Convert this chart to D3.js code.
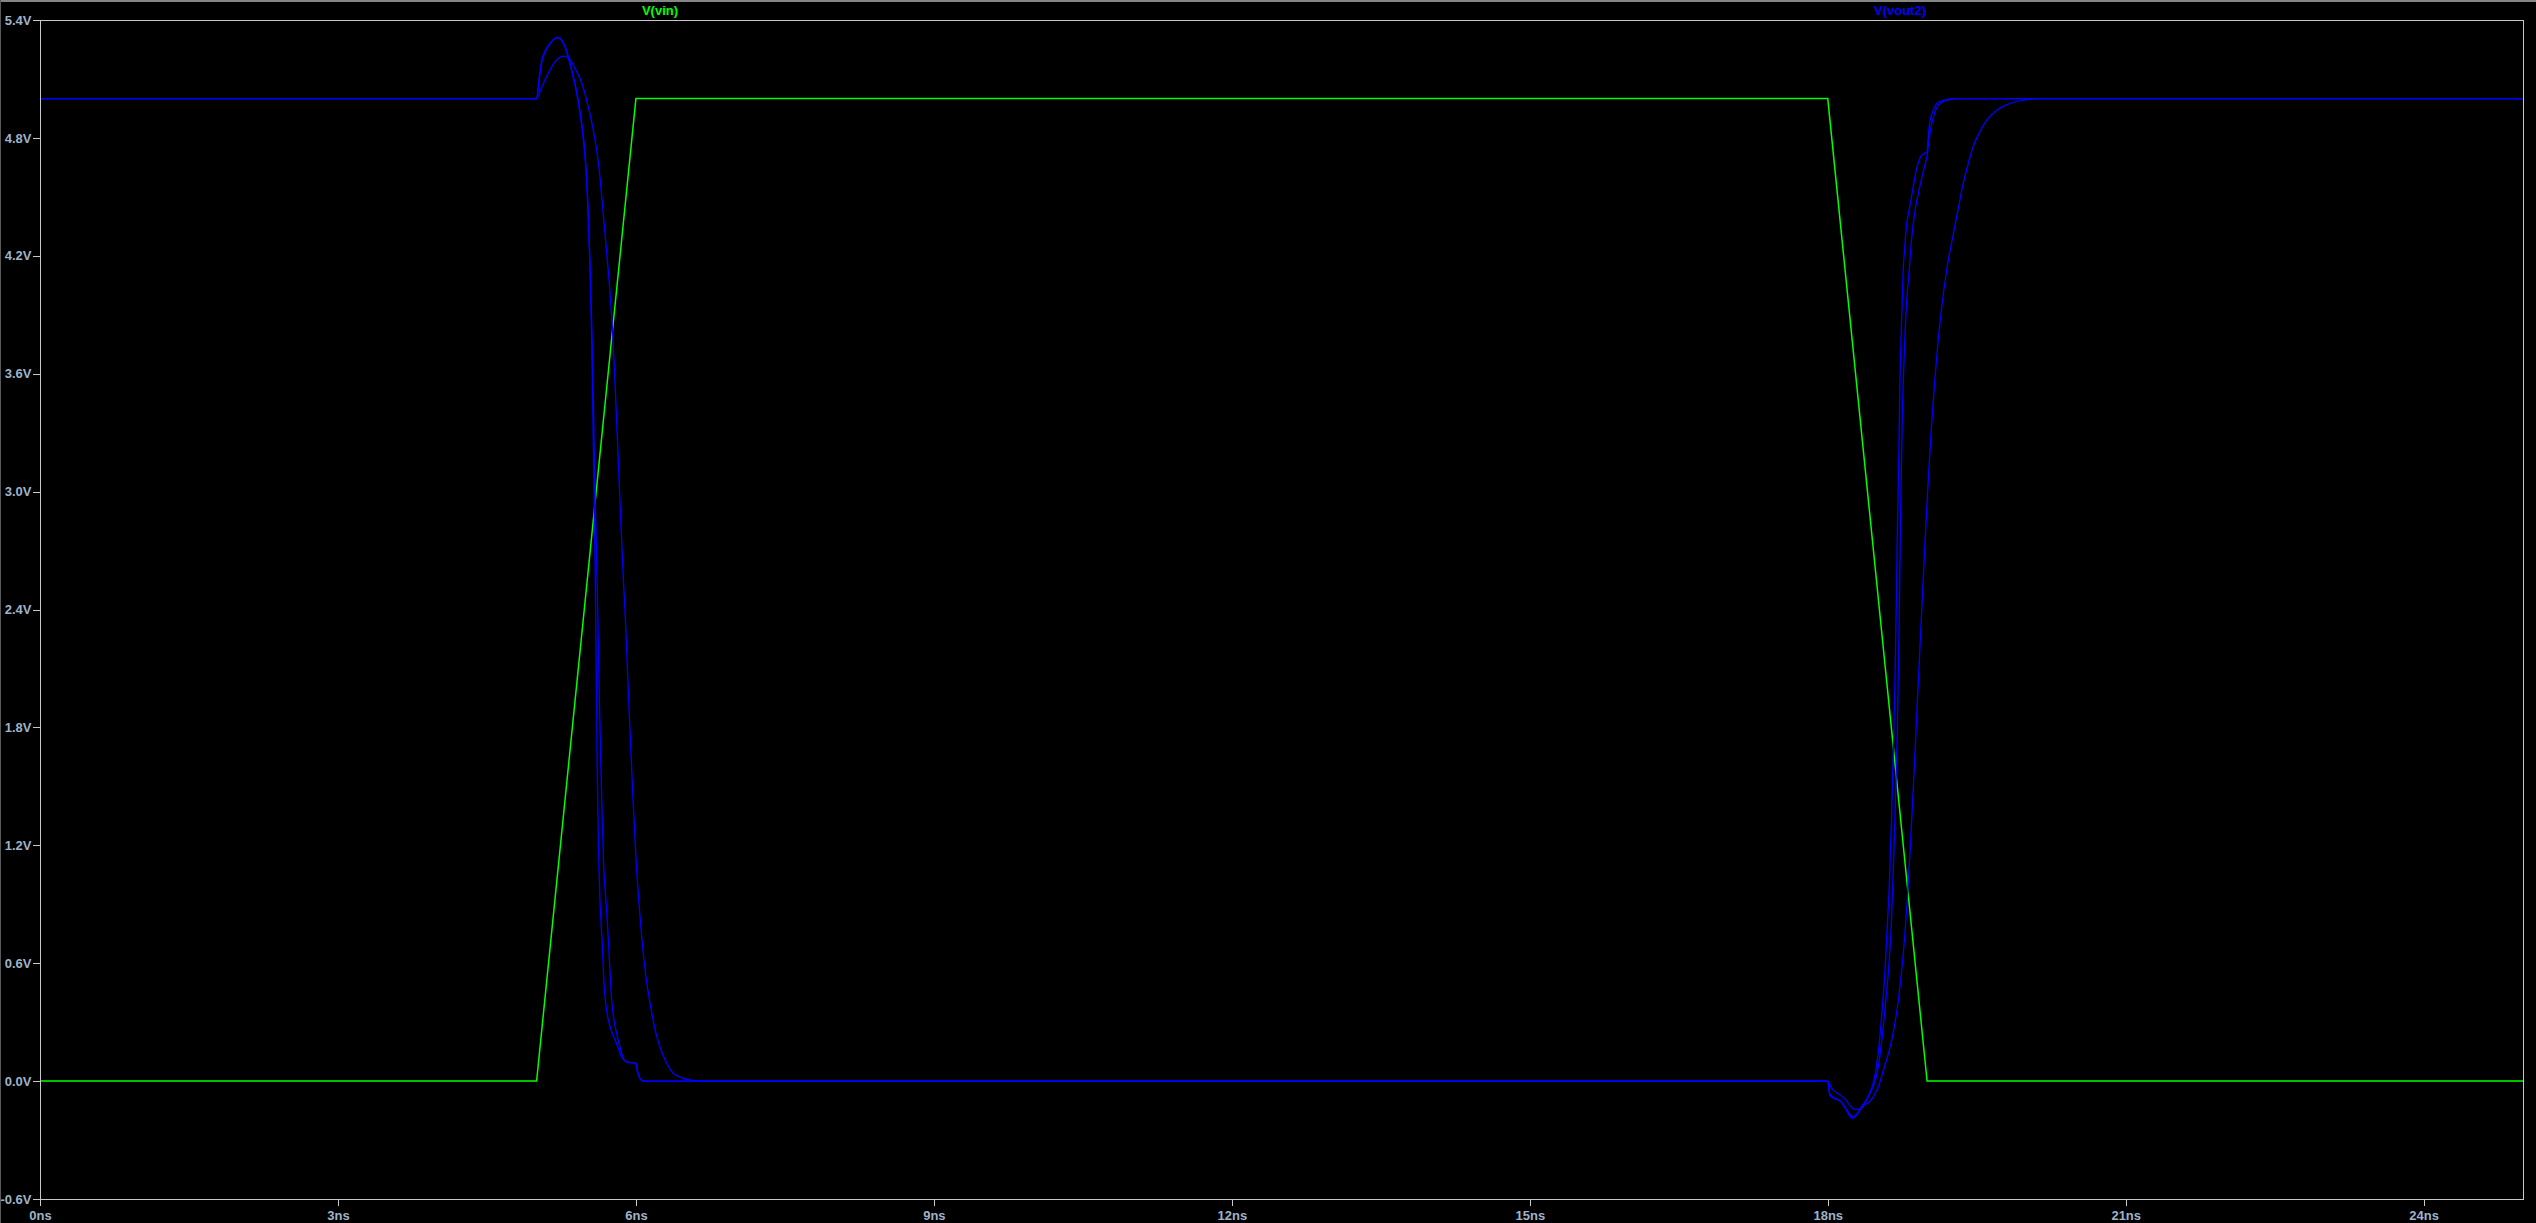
<!DOCTYPE html>
<html>
<head>
<meta charset="utf-8">
<script src="https://cdn.jsdelivr.net/npm/d3@7"></script>
<style>
  html, body { margin: 0; padding: 0; background: #000; overflow: hidden; }
  svg { display: block; }
  text { font-family: "Liberation Sans", Arial, sans-serif; font-weight: bold; }
</style>
</head>
<body>
<svg id="chart" width="2536" height="1223"></svg>
<script>
// ---- data ----
const seriesNames = ["V(vin)", "V(vout2)"];
const xTicks = [0, 3, 6, 9, 12, 15, 18, 21, 24];
const xTickLabels = ["0ns", "3ns", "6ns", "9ns", "12ns", "15ns", "18ns", "21ns", "24ns"];
const yTicks = [-0.6, 0.0, 0.6, 1.2, 1.8, 2.4, 3.0, 3.6, 4.2, 4.8, 5.4];
const yTickLabels = ["-0.6V", "0.0V", "0.6V", "1.2V", "1.8V", "2.4V", "3.0V", "3.6V", "4.2V", "4.8V", "5.4V"];

// input ramp (time ns, volts)
const vinTime = [0, 5, 6, 18, 19, 25];
const vinVolt = [0, 0, 5, 5, 0, 0];

// output, three stepped runs: [time ns, volts]
const vout2Run1 = [
  [0,5],[5.0,5.0],[5.027,5.11],[5.05,5.19],[5.084,5.24],[5.134,5.28],[5.185,5.306],[5.218,5.311],[5.252,5.298],
  [5.285,5.264],[5.319,5.213],[5.353,5.145],[5.386,5.077],[5.42,4.99],[5.453,4.88],[5.487,4.72],[5.51,4.53],
  [5.53,4.26],[5.544,4.02],[5.555,3.76],[5.565,3.45],[5.575,3.12],[5.59,2.6],[5.60,2.1],[5.61,1.6],[5.622,1.22],
  [5.638,0.92],[5.661,0.70],[5.681,0.48],[5.705,0.36],[5.738,0.28],[5.806,0.19],[5.866,0.115],[5.906,0.098],
  [6.0,0.09],[6.017,0.047],[6.04,0.014],[6.074,0.0],[18.0,0.0],[18.02,-0.063],[18.07,-0.088],[18.12,-0.097],
  [18.17,-0.131],[18.205,-0.165],[18.249,-0.19],[18.29,-0.173],[18.34,-0.131],[18.39,-0.097],[18.42,-0.063],
  [18.457,-0.012],[18.49,0.073],[18.52,0.2],[18.55,0.38],[18.575,0.55],[18.591,0.71],[18.618,0.98],[18.641,1.315],
  [18.658,1.65],[18.675,1.99],[18.692,2.5],[18.702,2.83],[18.715,3.17],[18.725,3.51],[18.742,3.85],[18.759,4.12],
  [18.776,4.25],[18.792,4.35],[18.826,4.45],[18.86,4.55],[18.893,4.64],[18.943,4.71],[19.0,4.73],[19.01,4.79],
  [19.027,4.88],[19.061,4.94],[19.111,4.98],[19.195,4.995],[19.26,5.0],[25,5.0]
];
const vout2Run2 = [
  [0,5],[5.0,5.0],[5.027,5.1],[5.05,5.18],[5.084,5.235],[5.134,5.28],[5.185,5.305],[5.22,5.31],[5.255,5.295],
  [5.29,5.26],[5.325,5.2],[5.36,5.13],[5.395,5.05],[5.43,4.95],[5.465,4.82],[5.50,4.62],[5.525,4.35],[5.545,4.05],
  [5.56,3.75],[5.572,3.45],[5.585,3.05],[5.60,2.75],[5.615,2.4],[5.63,2.0],[5.645,1.65],[5.66,1.35],[5.675,1.1],
  [5.698,0.92],[5.715,0.785],[5.728,0.667],[5.745,0.497],[5.762,0.378],[5.779,0.31],[5.806,0.243],[5.839,0.175],
  [5.873,0.115],[5.906,0.098],[6.0,0.09],[6.017,0.047],[6.04,0.014],[6.074,0],[18.0,0],[18.02,-0.07],[18.07,-0.09],
  [18.12,-0.1],[18.17,-0.13],[18.21,-0.16],[18.255,-0.18],[18.3,-0.165],[18.35,-0.125],[18.4,-0.085],[18.45,-0.035],
  [18.5,0.05],[18.53,0.15],[18.558,0.27],[18.585,0.41],[18.608,0.54],[18.641,0.81],[18.665,1.15],[18.685,1.48],
  [18.702,1.82],[18.719,2.33],[18.732,2.83],[18.749,3.34],[18.769,3.68],[18.792,3.95],[18.819,4.12],[18.843,4.28],
  [18.876,4.42],[18.926,4.55],[18.977,4.66],[19.0,4.71],[19.027,4.82],[19.078,4.93],[19.145,4.98],[19.229,4.995],
  [19.3,5.0],[25,5.0]
];
const vout2Run3 = [
  [0,5],[5.0,5.0],[5.034,5.035],[5.084,5.094],[5.134,5.145],[5.185,5.187],[5.235,5.21],[5.285,5.216],[5.336,5.199],
  [5.386,5.154],[5.436,5.103],[5.487,5.026],[5.52,4.958],[5.571,4.84],[5.604,4.74],[5.638,4.6],[5.67,4.42],
  [5.705,4.22],[5.738,4.02],[5.772,3.75],[5.799,3.44],[5.822,3.17],[5.849,2.83],[5.873,2.56],[5.896,2.33],
  [5.923,1.99],[5.946,1.72],[5.973,1.41],[6.0,1.14],[6.03,0.91],[6.057,0.74],[6.101,0.53],[6.141,0.4],[6.208,0.23],
  [6.275,0.13],[6.376,0.04],[6.51,0.01],[6.644,0],[18.0,0],[18.04,-0.037],[18.1,-0.063],[18.17,-0.088],[18.22,-0.122],
  [18.27,-0.144],[18.32,-0.144],[18.37,-0.122],[18.42,-0.105],[18.47,-0.071],[18.52,-0.012],[18.57,0.073],
  [18.62,0.158],[18.67,0.276],[18.71,0.41],[18.759,0.64],[18.799,0.91],[18.83,1.18],[18.86,1.48],[18.89,1.8],
  [18.92,2.12],[18.95,2.44],[18.98,2.75],[19.01,3.04],[19.04,3.3],[19.075,3.55],[19.11,3.76],[19.15,3.95],
  [19.195,4.12],[19.26,4.3],[19.31,4.43],[19.36,4.56],[19.41,4.66],[19.46,4.75],[19.53,4.83],[19.6,4.89],
  [19.7,4.94],[19.86,4.98],[20.0,4.995],[20.13,5.0],[25,5.0]
];

// ---- layout ----
const W = 2536, H = 1223;
const plot = { left: 40, top: 20, right: 2523, bottom: 1199 };
const labelColor = "#9fb3c8";
const frameColor = "#c8c8c8";
const green = "#00ff00";
const blue = "#0000ff";

const svg = d3.select("#chart");
svg.append("rect").attr("x", 0).attr("y", 0).attr("width", W).attr("height", H).attr("fill", "#000");
svg.append("rect").attr("x", 0).attr("y", 0).attr("width", W).attr("height", 2).attr("fill", "#858585");
svg.append("rect").attr("x", 0).attr("y", 0).attr("width", 1).attr("height", H).attr("fill", "#5a5a5a");

const x = d3.scaleLinear().domain([0, 25]).range([plot.left, plot.right]);
const y = d3.scaleLinear().domain([-0.6, 5.4]).range([plot.bottom, plot.top]);

// axes
const xAxis = d3.axisBottom(x).tickValues(xTicks)
  .tickFormat((d, i) => xTickLabels[i]).tickSize(7).tickPadding(5);
const yAxis = d3.axisLeft(y).tickValues(yTicks)
  .tickFormat((d, i) => yTickLabels[i]).tickSize(7).tickPadding(1.5);

const gx = svg.append("g").attr("transform", `translate(0,${plot.bottom})`).call(xAxis);
const gy = svg.append("g").attr("transform", `translate(${plot.left},0)`).call(yAxis);
[gx, gy].forEach(g => {
  g.select(".domain").remove();
  g.selectAll(".tick line").attr("stroke", frameColor).attr("stroke-width", 1).attr("shape-rendering", "crispEdges");
  g.selectAll(".tick text").attr("fill", labelColor).attr("font-size", 13)
    .attr("font-family", "'Liberation Sans', Arial, sans-serif").attr("font-weight", "bold");
});

// frame
svg.append("rect")
  .attr("x", plot.left + 0.5).attr("y", plot.top + 0.5)
  .attr("width", plot.right - plot.left).attr("height", plot.bottom - plot.top)
  .attr("fill", "none").attr("stroke", frameColor).attr("stroke-width", 1)
  .attr("shape-rendering", "crispEdges");

// clip
svg.append("clipPath").attr("id", "clip").append("rect")
  .attr("x", plot.left + 1).attr("y", plot.top + 1)
  .attr("width", plot.right - plot.left - 1).attr("height", plot.bottom - plot.top - 1);

const gPlot = svg.append("g").attr("clip-path", "url(#clip)");

const vinLine = d3.line().x((d, i) => x(vinTime[i])).y((d, i) => y(vinVolt[i]));
gPlot.append("path").datum(vinTime).attr("d", vinLine)
  .attr("fill", "none").attr("stroke", green).attr("stroke-width", 1.5);

const outLine = d3.line().x(d => x(d[0])).y(d => y(d[1])).curve(d3.curveMonotoneX);
[vout2Run1, vout2Run2, vout2Run3].forEach(run => {
  gPlot.append("path").datum(run).attr("d", outLine)
    .attr("fill", "none").attr("stroke", blue).attr("stroke-width", 1.3);
});

// legend labels
svg.append("text").attr("x", 660).attr("y", 15).attr("text-anchor", "middle")
  .attr("font-size", 13).attr("fill", green).text(seriesNames[0]);
svg.append("text").attr("x", 1900).attr("y", 15).attr("text-anchor", "middle")
  .attr("font-size", 13).attr("fill", blue).text(seriesNames[1]);
</script>
</body>
</html>
